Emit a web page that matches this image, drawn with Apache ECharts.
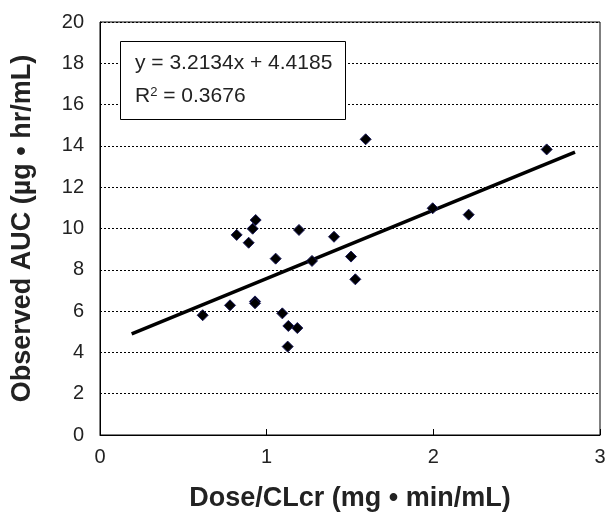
<!DOCTYPE html>
<html>
<head>
<meta charset="utf-8">
<script src="https://cdn.jsdelivr.net/npm/echarts@6/dist/echarts.min.js"></script>
<style>html,body{margin:0;padding:0;background:#fff}#c{width:608px;height:512px}</style>
</head>
<body>
<div id="c"></div>
<script>
// Observed points
var doseX = [1.594, 0.934, 0.916, 0.82, 0.892, 1.194, 1.404, 1.054, 1.272, 1.506, 1.532, 0.616, 0.78, 0.93, 0.93, 1.094, 1.13, 1.184, 1.126, 1.996, 2.212, 2.68];
var aucY  = [14.32, 10.41, 9.99, 9.69, 9.31, 9.93, 9.60, 8.54, 8.43, 8.64, 7.54, 5.80, 6.28, 6.47, 6.38, 5.89, 5.28, 5.18, 4.28, 10.98, 10.67, 13.83];
// Trend line end points
var trendX = [0.19, 2.85];
var trendY = [4.9, 13.7];
var xTicks = [0, 1, 2, 3];
var yTicks = [0, 2, 4, 6, 8, 10, 12, 14, 16, 18, 20];
var eqText = 'y = 3.2134x + 4.4185';
var r2Label = 'R';
var r2Value = ' = 0.3676';

var pts = doseX.map(function (x, i) { return [x, aucY[i]]; });
var line = trendX.map(function (x, i) { return [x, trendY[i]]; });

var chart = echarts.init(document.getElementById('c'));
var font = 'Liberation Sans, Arial, sans-serif';
chart.setOption({
  animation: false,
  backgroundColor: '#fff',
  grid: { left: 100, right: 8, top: 22, bottom: 77, show: true, borderColor: '#000', borderWidth: 1,
          containLabel: false, outerBoundsMode: 'none' },
  xAxis: {
    type: 'value', min: xTicks[0], max: xTicks[xTicks.length - 1], interval: 1,
    name: 'Dose/CLcr (mg \u2022 min/mL)', nameLocation: 'middle', nameGap: 50,
    nameTextStyle: { fontFamily: font, fontSize: 27, fontWeight: 'bold', color: '#222' },
    axisLine: { lineStyle: { color: '#000', width: 1 } },
    axisTick: { show: true, inside: true, length: 6, lineStyle: { color: '#000' } },
    axisLabel: { fontFamily: font, fontSize: 20, color: '#222', margin: 12 },
    splitLine: { show: false }
  },
  yAxis: {
    type: 'value', min: yTicks[0], max: yTicks[yTicks.length - 1], interval: 2,
    name: 'Observed AUC (\u00b5g \u2022 hr/mL)', nameLocation: 'middle', nameGap: 64,
    nameTextStyle: { fontFamily: font, fontSize: 27, fontWeight: 'bold', color: '#222' },
    axisLine: { show: true, lineStyle: { color: '#000', width: 1 } },
    axisTick: { show: false },
    axisLabel: { fontFamily: font, fontSize: 20, color: '#222', margin: 16 },
    splitLine: { show: true, lineStyle: { color: '#000', type: [2, 2], width: 1 } }
  },
  series: [
    {
      type: 'line', data: line, symbol: 'none', silent: true,
      lineStyle: { color: '#000', width: 3.5 }, z: 2
    },
    {
      type: 'scatter', data: pts, symbol: 'diamond', symbolSize: 11,
      itemStyle: { color: '#000', borderColor: '#1a1a5a', borderWidth: 1, opacity: 1 }, z: 3
    }
  ],
  graphic: [
    { type: 'rect', left: 120, top: 41, shape: { width: 225, height: 78 },
      style: { fill: '#fff', stroke: '#000', lineWidth: 1 }, z: 10 },
    { type: 'text', left: 135, top: 53, z: 11,
      style: { text: eqText, font: '21px ' + font, fill: '#222' } },
    { type: 'text', left: 135, top: 86, z: 11,
      style: { text: '{a|' + r2Label + '}{s|2}{a|' + r2Value + '}', fill: '#222',
        rich: { a: { fontSize: 21, fontFamily: font, color: '#222', verticalAlign: 'bottom' },
                s: { fontSize: 13, fontFamily: font, color: '#222', verticalAlign: 'top', padding: [0, 0, 8, 0] } } } }
  ]
});
</script>
</body>
</html>
